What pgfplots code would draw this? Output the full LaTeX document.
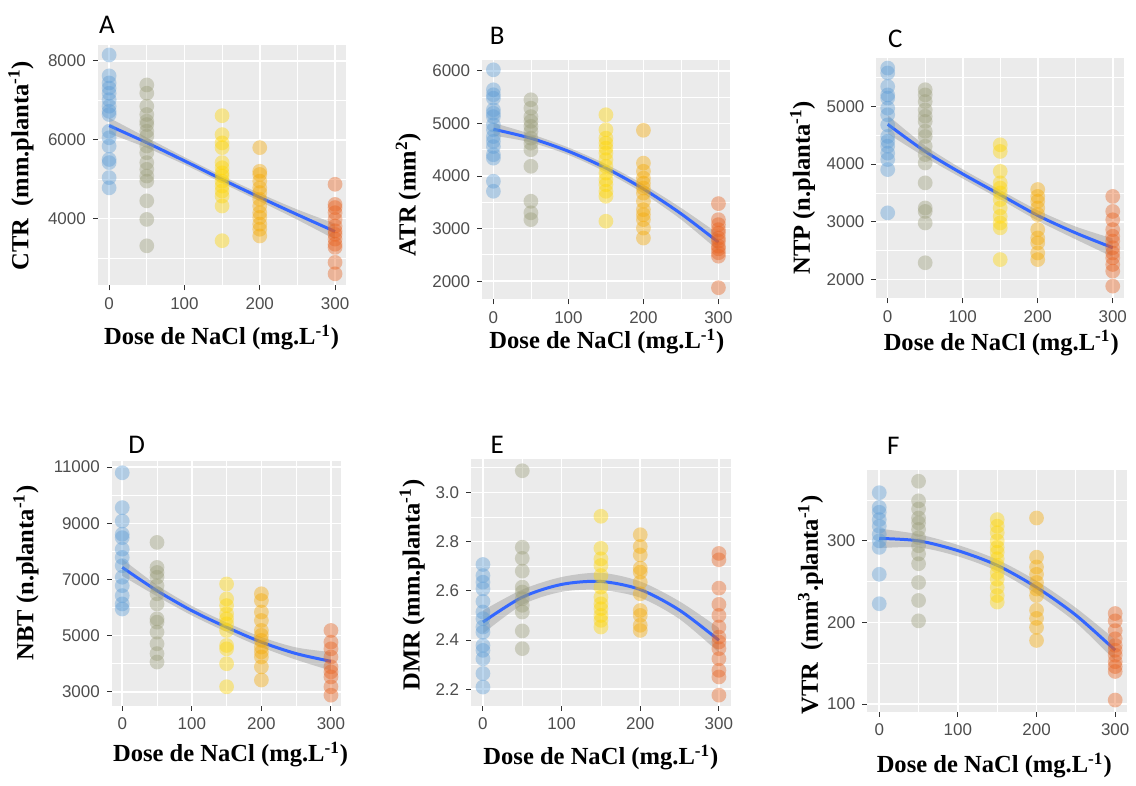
\documentclass[border=0pt]{standalone}
\usepackage{fontspec}
\setmainfont{Liberation Serif}
\newfontfamily\tickfont{Liberation Sans}
\newfontfamily\letterfont{Carlito}
\usepackage{pgfplots}
\pgfplotsset{compat=1.18}
\usepgfplotslibrary{fillbetween}
\definecolor{ggbg}{HTML}{EBEBEB}
\definecolor{tickc}{HTML}{4D4D4D}
\definecolor{tickm}{HTML}{333333}
\definecolor{c0}{HTML}{5B9BD5}
\definecolor{c50}{HTML}{9A9C78}
\definecolor{c150}{HTML}{FFD500}
\definecolor{c200}{HTML}{F5A800}
\definecolor{c300}{HTML}{E8601C}
\definecolor{bandc}{HTML}{999999}
\definecolor{fitc}{HTML}{3366FF}
\pgfplotsset{
  gg/.style={
    scale only axis, anchor=south west,
    xmin=-15, xmax=315,
    xtick={0,100,200,300}, minor xtick={50,150,250},
    scaled y ticks=false, scaled x ticks=false,
    axis background/.style={fill=ggbg},
    axis line style={draw=none},
    grid=both,
    major grid style={white, line width=0.8pt},
    minor grid style={white, line width=0.4pt},
    tick pos=left, tick align=outside,
    major tick length=2.5pt, minor tick length=0pt,
    major tick style={tickm, line width=0.5pt},
    ticklabel style={font=\tickfont\fontsize{8.5}{9}\selectfont, text=tickc},
    /pgf/number format/assume math mode=true,
    /pgf/number format/1000 sep={},
  },
  pts/.style={only marks, mark=*, color=#1, mark size=3.7pt, mark options={draw opacity=0, fill=#1, fill opacity=0.4}},
  fitl/.style={fitc, line width=1.5pt, smooth, no marks},
  bnd/.style={draw=none, smooth, no marks},
}
\newcommand\lab{\fontsize{12.3}{14}\selectfont\bfseries}
\newcommand\letter{\letterfont\fontsize{13.5}{15}\selectfont}
\begin{document}
\begin{tikzpicture}
% ---------------- A
\begin{axis}[gg, at={(49pt,247.5pt)}, width=124.5pt, height=120.5pt,
  ymin=2304, ymax=8405, ytick={4000,6000,8000}, minor ytick={3000,5000,7000}]
\addplot[pts=c0] coordinates {(0,8150)(0,7620)(0,7440)(0,7310)(0,7180)(0,7015)(0,6850)(0,6720)(0,6640)(0,6215)(0,6050)(0,5840)(0,5500)(0,5420)(0,5040)(0,4780)};
\addplot[pts=c50] coordinates {(50,7390)(50,7180)(50,6850)(50,6640)(50,6470)(50,6385)(50,6215)(50,6090)(50,5840)(50,5670)(50,5420)(50,5250)(50,5080)(50,4950)(50,4450)(50,3980)(50,3310)};
\addplot[pts=c150] coordinates {(150,6610)(150,6130)(150,5920)(150,5800)(150,5420)(150,5290)(150,5160)(150,5080)(150,4950)(150,4825)(150,4700)(150,4570)(150,4320)(150,3440)};
\addplot[pts=c200] coordinates {(200,5800)(200,5200)(200,5120)(200,4950)(200,4780)(200,4660)(200,4490)(200,4320)(200,4150)(200,4030)(200,3860)(200,3730)(200,3560)};
\addplot[pts=c300] coordinates {(300,4870)(300,4360)(300,4280)(300,4150)(300,3980)(300,3810)(300,3690)(300,3600)(300,3480)(300,3350)(300,3270)(300,2890)(300,2600)};
\addplot[bnd, name path=au] coordinates {(0,6558)(50,6055)(100,5560)(150,5084)(200,4640)(250,4230)(300,3872)};
\addplot[bnd, name path=al] coordinates {(0,6158)(50,5795)(100,5370)(150,4904)(200,4440)(250,3970)(300,3472)};
\addplot[bandc, fill opacity=0.45] fill between[of=au and al];
\addplot[fitl] coordinates {(0,6358)(50,5925)(100,5465)(150,4994)(200,4540)(250,4100)(300,3672)};
\end{axis}
% ---------------- B
\begin{axis}[gg, at={(241.5pt,240.5pt)}, width=124pt, height=120pt,
  ymin=1652, ymax=6209, ytick={2000,3000,4000,5000,6000}, minor ytick={2500,3500,4500,5500}]
\addplot[pts=c0] coordinates {(0,6020)(0,5640)(0,5545)(0,5480)(0,5260)(0,5195)(0,5130)(0,4975)(0,4880)(0,4750)(0,4660)(0,4560)(0,4405)(0,4340)(0,3900)(0,3710)};
\addplot[pts=c50] coordinates {(50,5450)(50,5290)(50,5130)(50,5040)(50,4945)(50,4850)(50,4720)(50,4625)(50,4500)(50,4185)(50,3520)(50,3300)(50,3170)};
\addplot[pts=c150] coordinates {(150,5165)(150,4880)(150,4720)(150,4625)(150,4530)(150,4435)(150,4310)(150,4185)(150,4055)(150,3930)(150,3835)(150,3710)(150,3615)(150,3140)};
\addplot[pts=c200] coordinates {(200,4870)(200,4245)(200,4090)(200,3960)(200,3865)(200,3770)(200,3675)(200,3520)(200,3360)(200,3265)(200,3170)(200,3010)(200,2820)};
\addplot[pts=c300] coordinates {(300,3475)(300,3170)(300,3075)(300,2980)(300,2915)(300,2820)(300,2760)(300,2665)(300,2615)(300,2540)(300,2475)(300,1875)};
\addplot[bnd, name path=bu] coordinates {(0,5010)(50,4798)(100,4541)(150,4225)(200,3839)(250,3394)(300,2900)};
\addplot[bnd, name path=bl] coordinates {(0,4770)(50,4638)(100,4401)(150,4075)(200,3669)(250,3174)(300,2580)};
\addplot[bandc, fill opacity=0.45] fill between[of=bu and bl];
\addplot[fitl] coordinates {(0,4890)(50,4718)(100,4471)(150,4150)(200,3754)(250,3284)(300,2740)};
\end{axis}
% ---------------- C
\begin{axis}[gg, at={(439pt,241pt)}, width=124pt, height=120.5pt,
  ymin=1671, ymax=5842, ytick={2000,3000,4000,5000}, minor ytick={2500,3500,4500,5500}]
\addplot[pts=c0] coordinates {(0,5665)(0,5580)(0,5345)(0,5200)(0,5145)(0,4970)(0,4855)(0,4680)(0,4480)(0,4395)(0,4310)(0,4190)(0,4080)(0,3905)(0,3155)};
\addplot[pts=c50] coordinates {(50,5290)(50,5200)(50,5085)(50,4940)(50,4830)(50,4740)(50,4570)(50,4480)(50,4310)(50,4165)(50,4020)(50,3675)(50,3240)(50,3180)(50,2980)(50,2290)};
\addplot[pts=c150] coordinates {(150,4335)(150,4220)(150,3875)(150,3675)(150,3585)(150,3500)(150,3385)(150,3240)(150,3095)(150,2980)(150,2895)(150,2345)};
\addplot[pts=c200] coordinates {(200,3560)(200,3440)(200,3355)(200,3240)(200,3125)(200,2865)(200,2720)(200,2635)(200,2460)(200,2345)};
\addplot[pts=c300] coordinates {(300,3440)(300,3180)(300,3035)(300,2865)(300,2750)(300,2665)(300,2550)(300,2460)(300,2375)(300,2260)(300,2145)(300,1885)};
\addplot[bnd, name path=cu] coordinates {(0,4850)(50,4320)(100,3910)(150,3550)(200,3200)(250,2920)(300,2710)};
\addplot[bnd, name path=cl] coordinates {(0,4530)(50,4120)(100,3750)(150,3390)(200,3020)(250,2700)(300,2390)};
\addplot[bandc, fill opacity=0.45] fill between[of=cu and cl];
\addplot[fitl] coordinates {(0,4690)(50,4220)(100,3830)(150,3470)(200,3110)(250,2810)(300,2550)};
\end{axis}
% ---------------- D
\begin{axis}[gg, at={(56pt,37pt)}, width=115pt, height=122.5pt,
  ymin=2504, ymax=11213, ytick={3000,5000,7000,9000,11000}, minor ytick={4000,6000,8000,10000}]
\addplot[pts=c0] coordinates {(0,10800)(0,9560)(0,9080)(0,8610)(0,8490)(0,8080)(0,7785)(0,7490)(0,7080)(0,6780)(0,6425)(0,6130)(0,5950)};
\addplot[pts=c50] coordinates {(50,8320)(50,7430)(50,7250)(50,7080)(50,6780)(50,6490)(50,6130)(50,5600)(50,5480)(50,5125)(50,4710)(50,4360)(50,4060)};
\addplot[pts=c150] coordinates {(150,6840)(150,6310)(150,6070)(150,5780)(150,5600)(150,5420)(150,5185)(150,4650)(150,4530)(150,4000)(150,3180)};
\addplot[pts=c200] coordinates {(200,6490)(200,6250)(200,5840)(200,5540)(200,5185)(200,5010)(200,4830)(200,4595)(200,4420)(200,4240)(200,3890)(200,3420)};
\addplot[pts=c300] coordinates {(300,5185)(300,4770)(300,4530)(300,4240)(300,3890)(300,3710)(300,3530)(300,3180)(300,2880)};
\addplot[bnd, name path=du] coordinates {(0,7730)(50,6800)(100,6060)(150,5470)(200,4950)(250,4580)(300,4415)};
\addplot[bnd, name path=dl] coordinates {(0,7130)(50,6400)(100,5720)(150,5130)(200,4590)(250,4140)(300,3755)};
\addplot[bandc, fill opacity=0.45] fill between[of=du and dl];
\addplot[fitl] coordinates {(0,7430)(50,6600)(100,5890)(150,5300)(200,4770)(250,4360)(300,4085)};
\end{axis}
% ---------------- E
\begin{axis}[gg, at={(236pt,37pt)}, width=130pt, height=123.5pt,
  ymin=2.133, ymax=3.135, ytick={2.2,2.4,2.6,2.8,3.0}, minor ytick={2.3,2.5,2.7,2.9,3.1},
  yticklabel style={/pgf/number format/.cd, fixed, fixed zerofill, precision=1}]
\addplot[pts=c0] coordinates {(0,2.707)(0,2.662)(0,2.635)(0,2.608)(0,2.557)(0,2.514)(0,2.487)(0,2.453)(0,2.432)(0,2.378)(0,2.358)(0,2.324)(0,2.264)(0,2.209)};
\addplot[pts=c50] coordinates {(50,3.088)(50,2.777)(50,2.732)(50,2.680)(50,2.615)(50,2.595)(50,2.568)(50,2.541)(50,2.514)(50,2.437)(50,2.365)};
\addplot[pts=c150] coordinates {(150,2.903)(150,2.773)(150,2.730)(150,2.703)(150,2.662)(150,2.615)(150,2.574)(150,2.547)(150,2.527)(150,2.500)(150,2.480)(150,2.453)};
\addplot[pts=c200] coordinates {(200,2.828)(200,2.780)(200,2.746)(200,2.692)(200,2.676)(200,2.635)(200,2.588)(200,2.520)(200,2.500)(200,2.460)(200,2.439)};
\addplot[pts=c300] coordinates {(300,2.752)(300,2.726)(300,2.611)(300,2.545)(300,2.500)(300,2.453)(300,2.412)(300,2.392)(300,2.365)(300,2.324)(300,2.277)(300,2.250)(300,2.176)};
\addplot[bnd, name path=eu] coordinates {(0,2.520)(50,2.605)(100,2.656)(150,2.673)(200,2.638)(250,2.557)(300,2.449)};
\addplot[bnd, name path=el] coordinates {(0,2.426)(50,2.543)(100,2.596)(150,2.603)(200,2.572)(250,2.485)(300,2.349)};
\addplot[bandc, fill opacity=0.45] fill between[of=eu and el];
\addplot[fitl] coordinates {(0,2.473)(50,2.574)(100,2.626)(150,2.638)(200,2.605)(250,2.521)(300,2.399)};
\end{axis}
% ---------------- F
\begin{axis}[gg, at={(434.5pt,34pt)}, width=130pt, height=121pt,
  ymin=90.7, ymax=386.6, ytick={100,200,300}, minor ytick={150,250,350}]
\addplot[pts=c0] coordinates {(0,359)(0,341)(0,335)(0,326)(0,318)(0,308)(0,300)(0,292)(0,259)(0,223)};
\addplot[pts=c50] coordinates {(50,373)(50,349)(50,339)(50,328)(50,322)(50,314)(50,304)(50,294)(50,284)(50,272)(50,249)(50,227)(50,202)};
\addplot[pts=c150] coordinates {(150,326)(150,318)(150,310)(150,300)(150,292)(150,286)(150,278)(150,270)(150,261)(150,253)(150,243)(150,233)(150,225)};
\addplot[pts=c200] coordinates {(200,328)(200,280)(200,268)(200,259)(200,249)(200,241)(200,233)(200,215)(200,205)(200,194)(200,178)};
\addplot[pts=c300] coordinates {(300,211)(300,202)(300,190)(300,180)(300,172)(300,166)(300,160)(300,152)(300,146)(300,140)(300,105)};
\addplot[bnd, name path=fu] coordinates {(0,315)(50,308)(100,295)(150,277)(200,251)(250,218)(300,179)};
\addplot[bnd, name path=fl] coordinates {(0,291)(50,292)(100,281)(150,263)(200,235)(250,200)(300,153)};
\addplot[bandc, fill opacity=0.45] fill between[of=fu and fl];
\addplot[fitl] coordinates {(0,303)(50,300)(100,288)(150,270)(200,243)(250,209)(300,166)};
\end{axis}
% ---------------- texts
\node[font=\letter] at (53.5pt,378.25pt) {A};
\node[font=\letter] at (249pt,372.5pt) {B};
\node[font=\letter] at (448.5pt,371pt) {C};
\node[font=\letter] at (68.5pt,167.5pt) {D};
\node[font=\letter] at (249pt,167.5pt) {E};
\node[font=\letter] at (447.5pt,167pt) {F};
\node[font=\lab] at (111pt,221.5pt) {Dose de NaCl (mg.L\textsuperscript{-1})};
\node[font=\lab] at (304pt,219.5pt) {Dose de NaCl (mg.L\textsuperscript{-1})};
\node[font=\lab] at (501.5pt,218.5pt) {Dose de NaCl (mg.L\textsuperscript{-1})};
\node[font=\lab] at (115.5pt,12.5pt) {Dose de NaCl (mg.L\textsuperscript{-1})};
\node[font=\lab] at (301pt,11pt) {Dose de NaCl (mg.L\textsuperscript{-1})};
\node[font=\lab] at (498pt,7pt) {Dose de NaCl (mg.L\textsuperscript{-1})};
\node[font=\lab, rotate=90] at (10.5pt,307.5pt) {CTR\ \ (mm.planta\textsuperscript{-1})};
\node[font=\lab, rotate=90] at (204.5pt,293pt) {ATR (mm\textsuperscript{2})};
\node[font=\lab, rotate=90] at (402pt,296.5pt) {NTP (n.planta\textsuperscript{-1})};
\node[font=\lab, rotate=90] at (13pt,103.5pt) {NBT (n.planta\textsuperscript{-1})};
\node[font=\lab, rotate=90] at (206.5pt,97.5pt) {DMR (mm.planta\textsuperscript{-1})};
\node[font=\lab, rotate=90] at (406pt,87.5pt) {VTR\ \ (mm\textsuperscript{3}.planta\textsuperscript{-1})};
\path (0,0) rectangle (568pt,390.5pt);
\end{tikzpicture}
\end{document}
